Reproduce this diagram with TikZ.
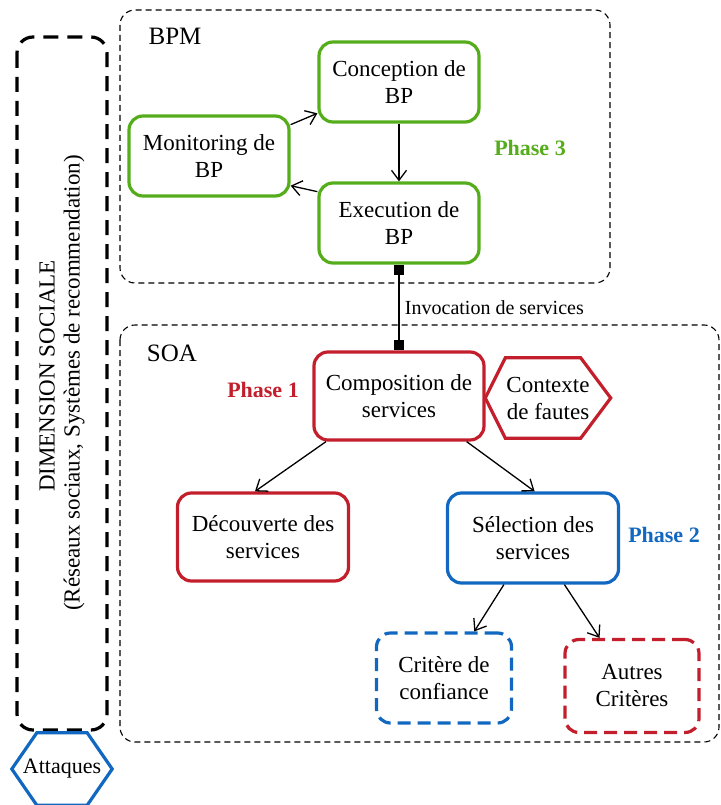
\documentclass[tikz,border=0pt]{standalone}
\usepackage{fontspec}
\setmainfont{Liberation Serif}
\usetikzlibrary{arrows.meta,calc}

\definecolor{pgreen}{HTML}{55AD1C}
\definecolor{pred}{HTML}{C21E2C}
\definecolor{pblue}{HTML}{1268C0}

\tikzset{
  txt/.style={font=\fontsize{23}{27}\selectfont, align=center},
  procbox/.style={txt, line width=3.2pt, rounded corners=14pt, inner sep=0pt},
  greenbox/.style={procbox, draw=pgreen, minimum width=160pt, minimum height=80pt},
  redbox/.style={procbox, draw=pred, minimum width=170pt, minimum height=88pt},
  bluebox/.style={procbox, draw=pblue, minimum width=171pt, minimum height=90pt},
  critbox/.style={procbox, dash pattern=on 13pt off 7pt},
  zone/.style={draw, line width=1.1pt, dash pattern=on 6pt off 4pt, rounded corners=15pt},
  bigzone/.style={draw, line width=3.2pt, dash pattern=on 15pt off 9pt, rounded corners=16pt},
  zonetitle/.style={font=\fontsize{25}{28}\selectfont, inner sep=0pt},
  phaselbl/.style={font=\fontsize{22}{26}\selectfont\bfseries, inner sep=0pt},
  flow/.style={line width=1.3pt, -{Straight Barb[length=10pt,width=15pt,line width=1.3pt]}},
  link/.style={line width=1.3pt, {Square[length=10pt,width=10pt]}-{Square[length=10pt,width=10pt]}},
  hexlbl/.style={txt, inner sep=0pt}
}

\begin{document}
\begin{tikzpicture}[x=1pt,y=-1pt]
\useasboundingbox (0,0) rectangle (720,805);

% outer zones
\draw[bigzone] (17,37) rectangle (107,730);
\draw[zone] (120,10) rectangle (610,283);
\draw[zone] (120,325) rectangle (719,742);

% social dimension, written sideways
\node[txt, rotate=90] (dimsoc) at (47,376) {DIMENSION SOCIALE};
\node[txt, rotate=90] (dimsub) at (74,383) {(Réseaux sociaux, Systèmes de recommendation)};

% zone titles
\node[zonetitle] (bpm) at (175,36) {BPM};
\node[zonetitle] (soa) at (172,353) {SOA};

% BPM cycle
\node[greenbox] (conc) at (399,82) {Conception de\\BP};
\node[greenbox] (mon) at (209,156) {Monitoring de\\BP};
\node[greenbox] (exe) at (399,223) {Execution de\\BP};
\node[phaselbl, text=pgreen] (ph3) at (530,148) {Phase 3};

\draw[flow] (conc.south) -- (exe.north);
\draw[flow] (mon.21) -- (conc.201);
\draw[flow] (exe.159) -- (mon.340);

% SOA part
\node[redbox] (comp) at (399,396) {Composition de\\services};
\node[phaselbl, text=pred] (ph1) at (263,390) {Phase 1};
\node[redbox, minimum width=171pt] (dec) at (263,537) {Découverte des\\services};
\node[bluebox] (sel) at (533,538) {Sélection des\\services};
\node[phaselbl, text=pblue] (ph2) at (664,535) {Phase 2};
\node[critbox, draw=pblue, minimum width=135pt, minimum height=90pt] (crit) at (444,678) {Critère de\\confiance};
\node[critbox, draw=pred, minimum width=134pt, minimum height=93pt] (aut) at (632,686) {Autres\\Critères};

\draw[link] (exe.south) -- node[right=2pt, font=\fontsize{20}{24}\selectfont] (inv) {Invocation de services} (comp.north);

\draw[flow] (comp.212.5) -- (dec.100);
\draw[flow] (comp.326) -- (sel.88);
\draw[flow] (sel.238) -- (crit.57);
\draw[flow] (sel.304) -- (aut.124);

% fault context hexagon
\node[hexlbl, minimum width=125pt, minimum height=80pt] (ctx) at (548,398) {Contexte\\de fautes};
\draw[pred, line width=3.2pt, line join=miter]
  (ctx.west) -- ($(ctx.north west)+(20,0)$) -- ($(ctx.north east)+(-30,0)$)
  -- (ctx.east) -- ($(ctx.south east)+(-30,0)$) -- ($(ctx.south west)+(20,0)$) -- cycle;

% attacks hexagon
\node[hexlbl, font=\fontsize{22}{26}\selectfont, minimum width=100pt, minimum height=72pt] (att) at (62,769) {Attaques};
\draw[pblue, line width=3.2pt, line join=miter]
  (att.west) -- ($(att.north west)+(25,0)$) -- ($(att.north east)+(-25,0)$)
  -- (att.east) -- ($(att.south east)+(-25,0)$) -- ($(att.south west)+(25,0)$) -- cycle;
\end{tikzpicture}
\end{document}
